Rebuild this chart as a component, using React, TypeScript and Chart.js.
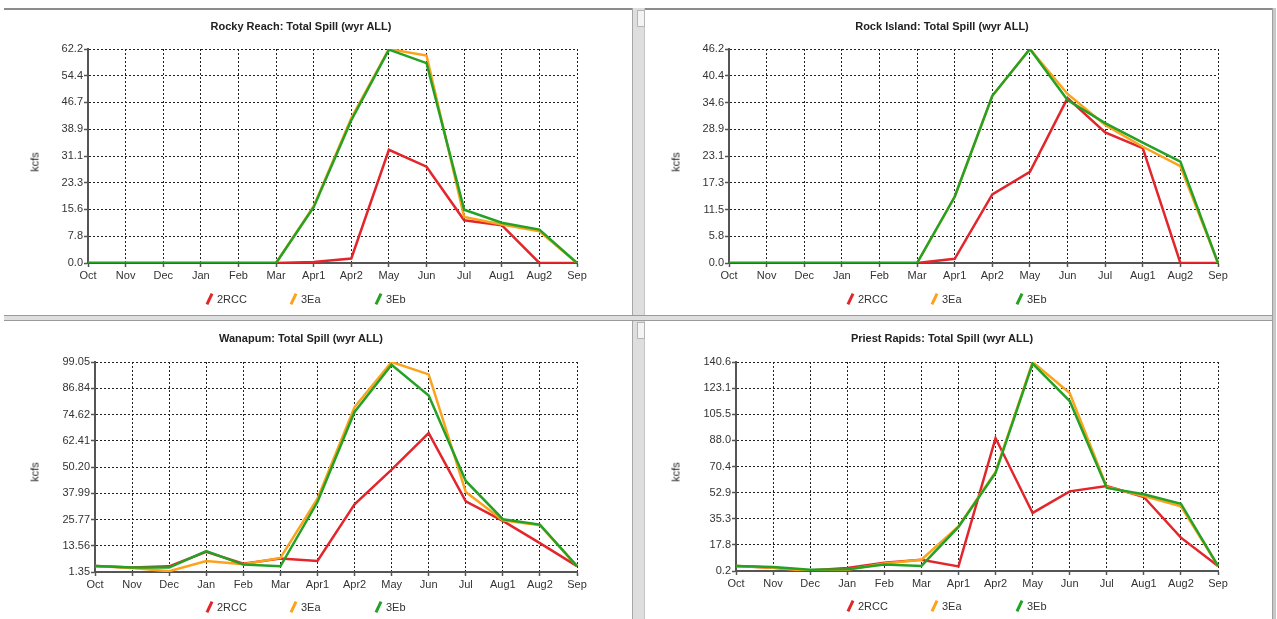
import React, { useEffect, useRef } from "react";
import { Chart, registerables } from "chart.js";

Chart.register(...registerables);

// ---------- data ----------
const months = ["Oct", "Nov", "Dec", "Jan", "Feb", "Mar", "Apr1", "Apr2", "May", "Jun", "Jul", "Aug1", "Aug2", "Sep"];
const seriesNames = ["2RCC", "3Ea", "3Eb"];
const yAxisLabel = "kcfs";

const rockyReachTitle = "Rocky Reach: Total Spill (wyr ALL)";
const rockyReachTicks = ["0.0", "7.8", "15.6", "23.3", "31.1", "38.9", "46.7", "54.4", "62.2"];
const rockyReach2RCC = [0, 0, 0, 0, 0, 0, 0.3, 1.3, 32.9, 28.0, 12.4, 11.0, 0, 0];
const rockyReach3Ea = [0, 0, 0, 0, 0, 0, 16.5, 42.1, 62.2, 60.3, 13.4, 11.2, 9.2, 0];
const rockyReach3Eb = [0, 0, 0, 0, 0, 0, 16.2, 41.5, 62.0, 58.1, 15.5, 11.7, 9.7, 0];

const rockIslandTitle = "Rock Island: Total Spill (wyr ALL)";
const rockIslandTicks = ["0.0", "5.8", "11.5", "17.3", "23.1", "28.9", "34.6", "40.4", "46.2"];
const rockIsland2RCC = [0, 0, 0, 0, 0, 0, 0.9, 14.8, 19.7, 35.6, 28.2, 24.8, 0, 0];
const rockIsland3Ea = [0, 0, 0, 0, 0, 0, 14.3, 36.1, 46.2, 36.5, 29.8, 25.1, 20.9, 0];
const rockIsland3Eb = [0, 0, 0, 0, 0, 0, 14.3, 36.1, 46.2, 35.2, 30.2, 26.0, 21.9, 0];

const wanapumTitle = "Wanapum: Total Spill (wyr ALL)";
const wanapumTicks = ["1.35", "13.56", "25.77", "37.99", "50.20", "62.41", "74.62", "86.84", "99.05"];
const wanapum2RCC = [4.1, 3.4, 4.0, 10.7, 5.2, 7.6, 6.5, 32.8, 49.0, 66.0, 34.2, 25.1, 14.8, 4.1];
const wanapum3Ea = [4.1, 3.2, 1.7, 6.5, 5.0, 7.9, 35.5, 78.1, 99.05, 93.3, 38.6, 25.4, 23.1, 4.1];
const wanapum3Eb = [4.1, 3.4, 3.4, 11.1, 4.8, 4.0, 33.9, 75.8, 97.8, 83.5, 43.7, 25.9, 23.4, 4.1];

const priestRapidsTitle = "Priest Rapids: Total Spill (wyr ALL)";
const priestRapidsTicks = ["0.2", "17.8", "35.3", "52.9", "70.4", "88.0", "105.5", "123.1", "140.6"];
const priestRapids2RCC = [3.6, 2.4, 0.6, 2.2, 5.8, 7.8, 3.3, 89.5, 39.2, 53.7, 57.3, 49.9, 22.6, 3.6];
const priestRapids3Ea = [3.6, 2.4, 0.2, 1.1, 5.2, 7.8, 30.2, 66.7, 140.6, 119.8, 56.6, 50.6, 43.6, 3.6];
const priestRapids3Eb = [3.6, 2.9, 1.1, 1.3, 4.5, 3.6, 29.8, 66.0, 139.5, 114.4, 56.0, 51.7, 45.4, 3.6];

// ---------- styles / layout ----------
const seriesColors = ["#e3262b", "#fba31c", "#25a225"];
const FONT = '"Liberation Sans", Arial, Helvetica, sans-serif';
const TEXT = "#333";

type Box = { left: number; top: number; width: number; height: number };
type Plot = { left: number; right: number; top: number; bottom: number };
type Spec = {
  title: string;
  ticks: string[];
  values: number[][];
  box: Box;
  plot: Plot;
  titleY: number;
  kcfsY: number;
  legendY: number;
};

const specs: Spec[] = [
  {
    title: rockyReachTitle, ticks: rockyReachTicks, values: [rockyReach2RCC, rockyReach3Ea, rockyReach3Eb],
    box: { left: 4, top: 10, width: 628, height: 305 },
    plot: { left: 88, right: 577, top: 49, bottom: 263 },
    titleY: 26, kcfsY: 162, legendY: 299,
  },
  {
    title: rockIslandTitle, ticks: rockIslandTicks, values: [rockIsland2RCC, rockIsland3Ea, rockIsland3Eb],
    box: { left: 645, top: 10, width: 627, height: 305 },
    plot: { left: 729, right: 1218, top: 49, bottom: 263 },
    titleY: 26, kcfsY: 162, legendY: 299,
  },
  {
    title: wanapumTitle, ticks: wanapumTicks, values: [wanapum2RCC, wanapum3Ea, wanapum3Eb],
    box: { left: 4, top: 322, width: 628, height: 297 },
    plot: { left: 95, right: 577, top: 362, bottom: 572 },
    titleY: 338, kcfsY: 472, legendY: 607,
  },
  {
    title: priestRapidsTitle, ticks: priestRapidsTicks, values: [priestRapids2RCC, priestRapids3Ea, priestRapids3Eb],
    box: { left: 645, top: 322, width: 627, height: 297 },
    plot: { left: 736, right: 1218, top: 362, bottom: 571 },
    titleY: 338, kcfsY: 472, legendY: 606,
  },
];

const legendOffsets = [205, 289, 374];

function SpillChart({ spec }: { spec: Spec }) {
  const ref = useRef<HTMLCanvasElement>(null);
  useEffect(() => {
    const { box, plot, ticks } = spec;
    const yWidth = plot.left - box.left;
    const xHeight = 20;
    const tickVals = ticks.map((t) => parseFloat(t));
    const gridCommon = {
      color: "#222",
      lineWidth: 1,
      tickColor: "#555",
      tickWidth: 1.5,
      tickBorderDash: [],
    };
    const borderCommon = { display: true, color: "#555", width: 2, dash: [2, 2] };
    const chart = new Chart(ref.current as HTMLCanvasElement, {
      type: "line",
      data: {
        labels: months,
        datasets: spec.values.map((v, i) => ({
          label: seriesNames[i],
          data: v,
          borderColor: seriesColors[i],
          backgroundColor: seriesColors[i],
          borderWidth: 2.5,
          pointRadius: 0,
          pointHoverRadius: 0,
          tension: 0,
          fill: false,
          order: 2 - i,
        })),
      },
      options: {
        responsive: false,
        animation: false,
        devicePixelRatio: 1,
        events: [],
        layout: {
          padding: {
            top: plot.top - box.top,
            right: box.left + box.width - plot.right,
            bottom: box.top + box.height - plot.bottom - xHeight,
            left: 0,
          },
        },
        plugins: {
          legend: { display: false },
          title: { display: false },
          tooltip: { enabled: false },
        },
        scales: {
          x: {
            type: "category",
            offset: false,
            grid: { ...gridCommon, tickLength: 4 },
            border: borderCommon,
            ticks: {
              color: TEXT,
              font: { family: FONT, size: 11 },
              padding: 2,
              maxRotation: 0,
              autoSkip: false,
            },
            afterFit: (s: any) => {
              s.height = xHeight;
            },
          },
          y: {
            type: "linear",
            min: tickVals[0],
            max: tickVals[tickVals.length - 1],
            grid: { ...gridCommon, tickLength: 4 },
            border: borderCommon,
            ticks: {
              color: TEXT,
              font: { family: FONT, size: 11 },
              padding: 1,
              autoSkip: false,
              callback: (_v: any, i: number) => ticks[i],
            },
            afterBuildTicks: (s: any) => {
              s.ticks = tickVals.map((value) => ({ value }));
            },
            afterFit: (s: any) => {
              s.width = yWidth;
            },
          },
        },
      } as any,
    });
    return () => chart.destroy();
  }, [spec]);

  const { box } = spec;
  return (
    <>
      <canvas
        ref={ref}
        width={box.width}
        height={box.height}
        style={{ position: "absolute", left: box.left, top: box.top, width: box.width, height: box.height }}
      />
      <div
        style={{
          position: "absolute",
          left: box.left + 297,
          top: spec.titleY,
          transform: "translate(-50%, -50%)",
          font: `bold 11px ${FONT}`,
          color: "#222",
          whiteSpace: "nowrap",
          lineHeight: "13px",
        }}
      >
        {spec.title}
      </div>
      <div
        style={{
          position: "absolute",
          left: box.left + 31,
          top: spec.kcfsY,
          transform: "translate(-50%, -50%) rotate(-90deg)",
          font: `11px ${FONT}`,
          color: "#222",
          whiteSpace: "nowrap",
          lineHeight: "13px",
        }}
      >
        {yAxisLabel}
      </div>
      {seriesNames.map((name, i) => (
        <React.Fragment key={name}>
          <div
            style={{
              position: "absolute",
              left: box.left + legendOffsets[i] - 1.5,
              top: spec.legendY - 6,
              width: 3,
              height: 12,
              background: seriesColors[i],
              transform: "rotate(25deg)",
            }}
          />
          <div
            style={{
              position: "absolute",
              left: box.left + legendOffsets[i] + 8,
              top: spec.legendY - 7,
              font: `11px ${FONT}`,
              color: TEXT,
              lineHeight: "14px",
              whiteSpace: "nowrap",
            }}
          >
            {name}
          </div>
        </React.Fragment>
      ))}
    </>
  );
}

export default function App() {
  useEffect(() => {
    document.body.style.margin = "0";
  }, []);
  return (
    <div
      style={{
        position: "absolute",
        left: 0,
        top: 0,
        width: 1277,
        height: 619,
        background: "#fff",
        overflow: "hidden",
      }}
    >
      {/* frame: top lines */}
      <div style={{ position: "absolute", left: 4, top: 8, width: 628, height: 2, background: "#8c8c8c" }} />
      <div style={{ position: "absolute", left: 645, top: 8, width: 628, height: 2, background: "#8c8c8c" }} />
      {/* vertical splitter */}
      <div
        style={{
          position: "absolute",
          left: 632,
          top: 8,
          width: 11,
          height: 611,
          background: "#dedede",
          borderLeft: "1px solid #a6a6a6",
          borderRight: "1px solid #c4c4c4",
        }}
      />
      {/* horizontal splitter */}
      <div
        style={{
          position: "absolute",
          left: 4,
          top: 315,
          width: 1269,
          height: 4,
          background: "#dedede",
          borderTop: "1px solid #9a9a9a",
          borderBottom: "1px solid #9a9a9a",
        }}
      />
      {/* small handles */}
      <div style={{ position: "absolute", left: 637, top: 10, width: 6, height: 15, background: "#f4f4f4", border: "1px solid #b5b5b5" }} />
      <div style={{ position: "absolute", left: 637, top: 322, width: 6, height: 15, background: "#f4f4f4", border: "1px solid #b5b5b5" }} />
      {/* right edge */}
      <div
        style={{
          position: "absolute",
          left: 1272,
          top: 8,
          width: 3,
          height: 611,
          background: "#c8c8c8",
          borderLeft: "1px solid #a0a0a0",
        }}
      />
      {specs.map((s) => (
        <SpillChart key={s.title} spec={s} />
      ))}
    </div>
  );
}
